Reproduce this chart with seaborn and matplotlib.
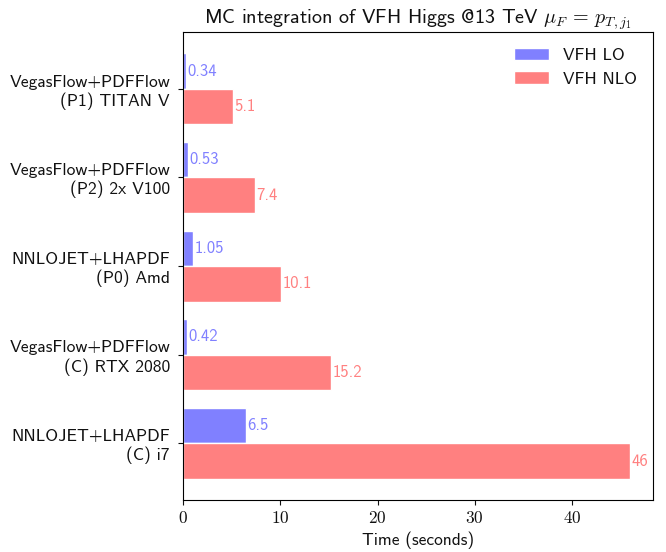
import matplotlib
matplotlib.use("Agg")
import matplotlib.pyplot as plt
import seaborn as sns
import pandas as pd

categories = ["VegasFlow+PDFFlow\n(P1) TITAN V",
              "VegasFlow+PDFFlow\n(P2) 2x V100",
              "NNLOJET+LHAPDF\n(P0) Amd",
              "VegasFlow+PDFFlow\n(C) RTX 2080",
              "NNLOJET+LHAPDF\n(C) i7"]
lo_values = [0.34, 0.53, 1.05, 0.42, 6.5]
nlo_values = [5.1, 7.4, 10.1, 15.2, 46]
lo_labels = ["0.34", "0.53", "1.05", "0.42", "6.5"]
nlo_labels = ["5.1", "7.4", "10.1", "15.2", "46"]
series = ["VFH LO", "VFH NLO"]
xticks = [0, 10, 20, 30, 40]

sns.set_style("ticks")
plt.rcParams['font.family'] = ['cmss10', 'DejaVu Sans']
plt.rcParams['mathtext.fontset'] = 'cm'
plt.rcParams['axes.unicode_minus'] = False
plt.rcParams['text.color'] = '#111111'
plt.rcParams['axes.labelcolor'] = '#111111'
plt.rcParams['xtick.color'] = '#111111'
plt.rcParams['ytick.color'] = '#111111'

df = pd.DataFrame({
    "category": categories * 2,
    "time": lo_values + nlo_values,
    "series": [series[0]] * len(categories) + [series[1]] * len(categories),
})

colors = ["#8080ff", "#ff8080"]
fig = plt.figure(figsize=(6.66, 5.52), dpi=100)
ax = fig.add_axes([0.275, 0.094, 0.705, 0.848])
sns.barplot(data=df, y="category", x="time", hue="series", order=categories,
            hue_order=series, palette=colors, orient="h", width=0.8,
            saturation=1, ax=ax, errorbar=None)

for cont, labs, col in zip(ax.containers, [lo_labels, nlo_labels], colors):
    ax.bar_label(cont, labels=labs, color=col, fontsize=12, padding=1)

ax.set_xlim(0, 48.3)
ax.set_ylim(4.64, -0.64)
ax.set_xticks(xticks)
ax.set_xticklabels([f"${v}$" for v in xticks], fontsize=12.5)
ax.tick_params(axis='y', labelsize=12.6, pad=6)
ax.set_ylabel("")
ax.set_xlabel("Time (seconds)", fontsize=12.5)
ax.set_title(r"MC integration of VFH Higgs @13 TeV $\mu_F \,=\, p_{T,j_1}$", fontsize=14.5)
for s in ax.spines.values():
    s.set_visible(True)
    s.set_color("black")
ax.legend(frameon=False, loc="upper right", fontsize=12.5, handlelength=2.0)

fig.savefig("out.png", dpi=100)
